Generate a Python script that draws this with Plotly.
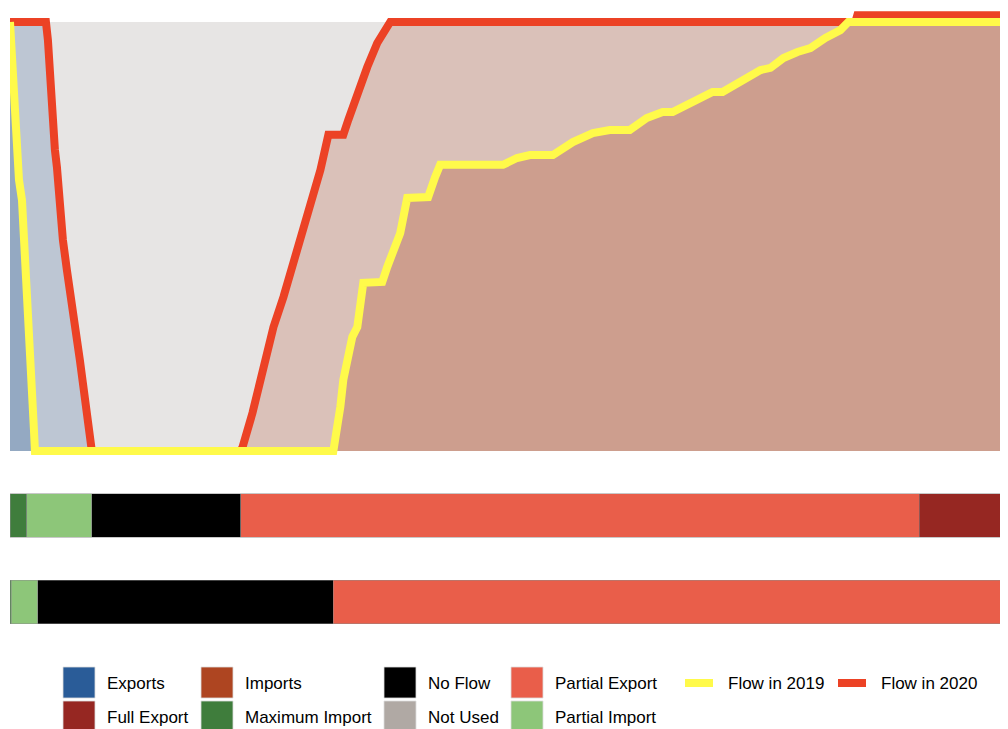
import plotly.graph_objects as go

# ranked hours (% of the year) vs flow (% of line capacity)
# 2020 flow curve: export side (left) and import side (right)
red_exp_x = [0, 3.6, 3.8, 4.0, 4.2, 4.5, 4.7, 4.9, 5.3, 5.7, 6.2, 6.7, 7.0, 7.3, 7.7, 8.0, 8.2]
red_exp_y = [100, 100, 95.8, 86.5, 77.9, 70.2, 66.2, 59.2, 49.2, 42.2, 35.2, 27.5, 21.2, 15.9, 9.6, 4.2, 0]
red_imp_x = [23.1, 23.3, 24.3, 25.4, 26.4, 27.4, 28.4, 29.4, 30.3, 31.1, 31.9, 33.4, 33.9,
             34.8, 35.8, 36.8, 38.1, 84.7, 84.9, 100]
red_imp_y = [0, 0.9, 8.9, 20.5, 28.9, 35.9, 43.8, 50.8, 58.5, 65.5, 73.7, 73.7, 77.2,
             83.4, 89.5, 95.1, 100, 100, 101.6, 101.6]

# 2019 flow curve
yel_exp_x = [0, 0.2, 0.3, 0.6, 0.9, 1.2, 1.5, 1.8, 2.0, 2.2, 2.4, 2.5]
yel_exp_y = [100, 91.1, 81.8, 70.2, 63.2, 58.5, 46.9, 35.2, 24.7, 14.2, 4.9, 0]
yel_imp_x = [32.4, 33.1, 33.4, 34.3, 34.8, 35.4, 37.3, 37.8, 39.1, 39.8, 41.9, 42.6, 43.1,
             49.4, 50.8, 52.1, 54.4, 56.4, 58.4, 60.1, 62.1, 63.8, 65.4, 66.4, 68.4, 70.4,
             71.4, 73.8, 75.2, 76.2, 77.5, 78.9, 80.2, 81.7, 83.2, 84.0, 100]
yel_imp_y = [0, 10.3, 16.6, 26.6, 28.9, 39.2, 39.4, 42.9, 50.8, 59.0, 59.2, 63.9, 66.7,
             66.7, 68.3, 69.0, 69.0, 72.0, 74.1, 74.8, 74.8, 77.6, 79.0, 79.0, 81.4, 83.7,
             83.7, 86.9, 88.8, 89.3, 91.6, 93.0, 93.9, 96.3, 98.1, 100, 100]

capacity_x = [0, 100]
capacity_y = [100, 100]

# share of hours per flow state
bar_years = ["2019", "2020"]
bar_categories = ["Maximum Import", "Partial Import", "No Flow", "Partial Export", "Full Export"]
share_2019 = [0.1, 2.7, 29.6, 67.6, 0.0]
share_2020 = [1.7, 6.5, 14.9, 68.0, 8.9]

colors = {
    "Exports": "#2A5C98",
    "Full Export": "#962722",
    "Imports": "#AE4521",
    "Maximum Import": "#3F7D3C",
    "No Flow": "#000000",
    "Not Used": "#B0A9A4",
    "Partial Export": "#E95E4A",
    "Partial Import": "#8DC679",
    "Flow in 2019": "#FFFA4A",
    "Flow in 2020": "#EC4225",
}


def rgba(hex_color, a):
    h = hex_color.lstrip("#")
    r, g, b = (int(h[i:i + 2], 16) for i in (0, 2, 4))
    return f"rgba({r},{g},{b},{a})"


W, H = 1008, 729
OFF = 8  # page margin around the plot div


def px_x(p):
    return (p - OFF) / W


def px_y(p):
    return 1 - (p - OFF) / H


# x scale: screen px 10 -> 0 %, 1008 -> 100 %
x_right = (W + OFF - 10) / 998 * 100

fig = go.Figure()

# background: unused capacity
fig.add_trace(go.Scatter(x=capacity_x, y=capacity_y, fill="tozeroy", mode="lines",
                         line=dict(width=0), fillcolor=rgba(colors["Not Used"], 0.3),
                         hoverinfo="skip", showlegend=False))

# 2020 areas
fig.add_trace(go.Scatter(x=red_exp_x, y=red_exp_y, fill="tozerox", mode="lines",
                         line=dict(width=0), fillcolor=rgba(colors["Exports"], 0.22),
                         hoverinfo="skip", showlegend=False))
fig.add_trace(go.Scatter(x=red_imp_x, y=red_imp_y, fill="tozeroy", mode="lines",
                         line=dict(width=0), fillcolor=rgba(colors["Imports"], 0.22),
                         hoverinfo="skip", showlegend=False))
# 2019 areas
fig.add_trace(go.Scatter(x=yel_exp_x, y=yel_exp_y, fill="tozerox", mode="lines",
                         line=dict(width=0), fillcolor=rgba(colors["Exports"], 0.28),
                         hoverinfo="skip", showlegend=False))
fig.add_trace(go.Scatter(x=yel_imp_x, y=yel_imp_y, fill="tozeroy", mode="lines",
                         line=dict(width=0), fillcolor=rgba(colors["Imports"], 0.28),
                         hoverinfo="skip", showlegend=False))

# flow lines
fig.add_trace(go.Scatter(x=red_exp_x + red_imp_x, y=red_exp_y + red_imp_y, mode="lines",
                         line=dict(color=colors["Flow in 2020"], width=8),
                         name="Flow in 2020", showlegend=False))
fig.add_trace(go.Scatter(x=yel_exp_x + yel_imp_x, y=yel_exp_y + yel_imp_y, mode="lines",
                         line=dict(color=colors["Flow in 2019"], width=8),
                         name="Flow in 2019", showlegend=False))

# state bars
for i, cat in enumerate(bar_categories):
    fig.add_trace(go.Bar(x=[share_2019[i], share_2020[i]], y=bar_years, orientation="h",
                         marker=dict(color=colors[cat],
                                     line=dict(color="rgba(140,140,140,0.6)", width=0.8)),
                         name=cat, showlegend=False, xaxis="x2", yaxis="y2"))

# legend drawn by hand (ggplot-style large keys)
shapes = []
annotations = []
fill_cols = [["Exports", "Full Export"], ["Imports", "Maximum Import"],
             ["No Flow", "Not Used"], ["Partial Export", "Partial Import"]]
col_left = [63, 201, 384, 511]
row_top = [667, 701]
for left, col in zip(col_left, fill_cols):
    for top, lab in zip(row_top, col):
        shapes.append(dict(type="rect", xref="paper", yref="paper",
                           x0=px_x(left), x1=px_x(left + 32), y0=px_y(top + 31), y1=px_y(top),
                           fillcolor=colors[lab], line=dict(color="#DDDDDD", width=0.8)))
        annotations.append(dict(text=lab, xref="paper", yref="paper", x=px_x(left + 42),
                                y=px_y(top + 16), xanchor="left", yanchor="middle",
                                showarrow=False))
for left, lab in zip([685, 838], ["Flow in 2019", "Flow in 2020"]):
    shapes.append(dict(type="line", xref="paper", yref="paper",
                       x0=px_x(left), x1=px_x(left + 28), y0=px_y(683), y1=px_y(683),
                       line=dict(color=colors[lab], width=8)))
    annotations.append(dict(text=lab, xref="paper", yref="paper", x=px_x(left + 41),
                            y=px_y(683), xanchor="left", yanchor="middle", showarrow=False))

hidden = dict(visible=False, showgrid=False, zeroline=False, fixedrange=True)
fig.update_layout(
    width=W, height=H,
    margin=dict(l=0, r=0, t=0, b=0),
    paper_bgcolor="white", plot_bgcolor="white",
    font=dict(family="Liberation Sans, Arial, sans-serif", size=17, color="black"),
    barmode="stack", bargap=0.497,
    xaxis=dict(domain=[px_x(10), 1], range=[0, x_right], **hidden),
    yaxis=dict(domain=[px_y(456), px_y(8)], range=[(451 - 456) / 4.29, (451 - 8) / 4.29], **hidden),
    xaxis2=dict(domain=[px_x(10), 1], range=[0, x_right], anchor="y2", **hidden),
    yaxis2=dict(domain=[px_y(645.25), px_y(472.25)], range=[-0.5, 1.5], anchor="x2",
                type="category", categoryorder="array", categoryarray=bar_years, **hidden),
    shapes=shapes,
    annotations=annotations,
    showlegend=False,
)

fig.write_html("out.html")
